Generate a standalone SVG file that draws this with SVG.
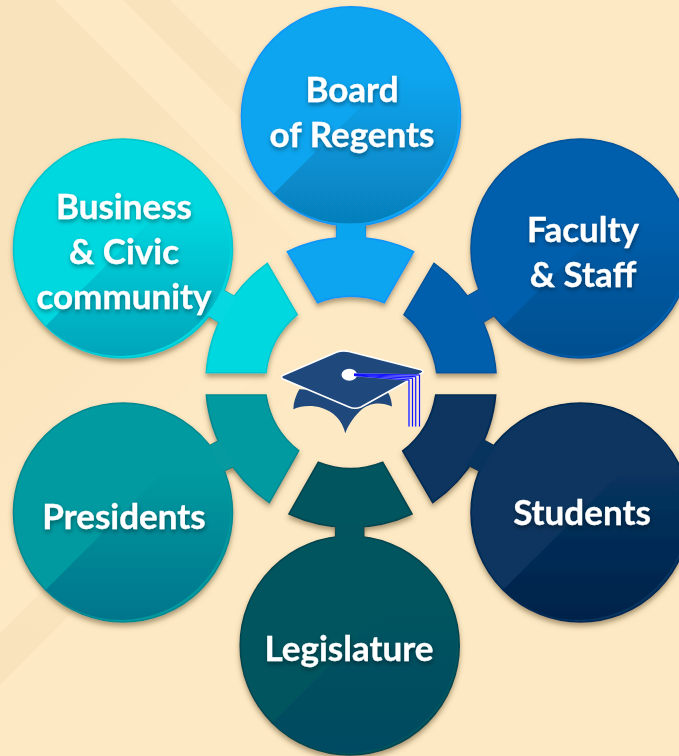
<svg xmlns="http://www.w3.org/2000/svg" width="679" height="756" viewBox="0 0 679 756">
<style>
text{font-family:"Lato","Carlito","Liberation Sans",sans-serif;font-weight:700;font-size:35px;fill:#fff;stroke:#fff;stroke-width:.3;text-anchor:middle}
.under{stroke-width:1.6;stroke-linejoin:round}
.board{fill:#0aa5ef;stroke:#0a96f8}
.faculty{fill:#035fad;stroke:#02549a}
.students{fill:#07345f;stroke:#052b52}
.legis{fill:#02545f;stroke:#02464f}
.pres{fill:#049aa0;stroke:#028a90}
.biz{fill:#05d8e0;stroke:#03c6cc}
.shade,.top{stroke:none}
.halo{fill:none;stroke:#a8a8ff;stroke-width:1.7}
.tass{fill:none;stroke:#0000ff;stroke-width:.9}
</style>
<defs>
<filter id="sh" x="-20%" y="-20%" width="140%" height="140%"><feDropShadow dx="0" dy="3.5" stdDeviation="2.6" flood-color="#5a4420" flood-opacity=".5"/></filter>
<filter id="ts" x="-20%" y="-30%" width="140%" height="170%"><feDropShadow dx="0.5" dy="2.5" stdDeviation="2" flood-color="#000" flood-opacity=".4"/></filter>
<linearGradient id="f1" gradientUnits="userSpaceOnUse" x1="120" y1="120" x2="315" y2="315"><stop offset="0" stop-color="#f9e3bc"/><stop offset="1" stop-color="#f9e3bc" stop-opacity="0"/></linearGradient>
<linearGradient id="f2" gradientUnits="userSpaceOnUse" x1="200" y1="70" x2="450" y2="320"><stop offset="0" stop-color="#f9e3bc"/><stop offset="1" stop-color="#f9e3bc" stop-opacity="0"/></linearGradient>
<linearGradient id="f3" gradientUnits="userSpaceOnUse" x1="0" y1="660" x2="340" y2="320"><stop offset="0" stop-color="#f9e3bc"/><stop offset="1" stop-color="#f9e3bc" stop-opacity="0"/></linearGradient>
<linearGradient id="gBoard" x1="0" y1="0" x2="0" y2="1"><stop offset=".2" stop-color="#0aa5ef"/><stop offset="1" stop-color="#067fbb"/></linearGradient>
<linearGradient id="gFaculty" x1="0" y1="0" x2="0" y2="1"><stop offset=".2" stop-color="#035fad"/><stop offset="1" stop-color="#024f8f"/></linearGradient>
<linearGradient id="gStudents" x1="0" y1="0" x2="0" y2="1"><stop offset=".2" stop-color="#07345f"/><stop offset="1" stop-color="#02234a"/></linearGradient>
<linearGradient id="gLegis" x1="0" y1="0" x2="0" y2="1"><stop offset=".2" stop-color="#02545f"/><stop offset="1" stop-color="#024a62"/></linearGradient>
<linearGradient id="gPres" x1="0" y1="0" x2="0" y2="1"><stop offset=".2" stop-color="#049aa0"/><stop offset="1" stop-color="#03758c"/></linearGradient>
<linearGradient id="gBiz" x1="0" y1="0" x2="0" y2="1"><stop offset=".2" stop-color="#05d8e0"/><stop offset="1" stop-color="#02a5bb"/></linearGradient>
<polygon id="n1" points="336.7,223.5 365.3,223.5 365.3,240 336.7,240"/>
<polygon id="n2" points="480.9,288.5 495.9,314.5 481.4,323.2 465.7,297.2"/>
<polygon id="n3" points="495.3,446.5 480.9,471.5 466.7,464.5 482.4,439.5"/>
<polygon id="n4" points="335.7,524 363.7,524 363.7,538 335.7,538"/>
<polygon id="n5" points="208.1,446.5 222.4,471.5 235.3,465.8 219.9,440.2"/>
<polygon id="n6" points="223.1,290.2 207.4,315.2 220.9,323.2 235.9,297.2"/>
</defs>
<rect width="679" height="756" fill="#fde9c4"/>
<g id="background">
<polygon fill="#f9e3bc" points="0,0 55,0 170,115 0,285"/>
<polygon fill="url(#f1)" points="0,285 170,115 315,260 0,574"/>
<polygon fill="url(#f2)" points="123,0 170,0 450,280 425,305"/>
<polygon fill="url(#f3)" points="0,633 320,313 345,340 0,685"/>
</g>
<g id="connectors" filter="url(#sh)">
<use href="#n1" class="board under"/><use href="#n2" class="faculty under"/><use href="#n3" class="students under"/><use href="#n4" class="legis under"/><use href="#n5" class="pres under"/><use href="#n6" class="biz under"/>
</g>
<g id="node-board" filter="url(#sh)">
<circle class="board" stroke-width="1.6" cx="351" cy="116.3" r="109.5"/>
<path class="shade" fill="url(#gBoard)" d="M273.6,193.7A109.5,109.5 0 0 0 428.4,38.9Z"/>
<path class="board" stroke-width="1.6" d="M287.3,251.7A147,147 0 0 1 413.7,251.7L384.3,302.7A88,88 0 0 0 317.7,302.7Z"/>
</g>
<g id="node-faculty" filter="url(#sh)">
<circle class="faculty" stroke-width="1.6" cx="580.5" cy="248.5" r="109.5"/>
<path class="shade" fill="url(#gFaculty)" d="M503.1,325.9A109.5,109.5 0 0 0 657.9,171.1Z"/>
<path class="faculty" stroke-width="1.6" d="M434,263.3A147,147 0 0 1 496,372.7L436.7,372.7A88,88 0 0 0 404,314.7Z"/>
</g>
<g id="node-students" filter="url(#sh)">
<circle class="students" stroke-width="1.6" cx="580.5" cy="512.5" r="109.5"/>
<path class="shade" fill="url(#gStudents)" d="M503.1,589.9A109.5,109.5 0 0 0 657.9,435.1Z"/>
<path class="students" stroke-width="1.6" d="M495.7,395A147,147 0 0 1 432.7,502.7L402.7,451A88,88 0 0 0 435.7,395Z"/>
</g>
<g id="node-legislature" filter="url(#sh)">
<circle class="legis" stroke-width="1.6" cx="349.7" cy="645.5" r="109.5"/>
<path class="shade" fill="url(#gLegis)" d="M272.3,722.9A109.5,109.5 0 0 0 427.1,568.1Z"/>
<path class="legis" stroke-width="1.6" d="M412,514A147,147 0 0 1 289,514L318.3,462.3A88,88 0 0 0 382.7,462.3Z"/>
</g>
<g id="node-presidents" filter="url(#sh)">
<circle class="pres" stroke-width="1.6" cx="123" cy="512.5" r="109.5"/>
<path class="shade" fill="url(#gPres)" d="M45.6,589.9A109.5,109.5 0 0 0 200.4,435.1Z"/>
<path class="pres" stroke-width="1.6" d="M269.3,502.7A147,147 0 0 1 206.3,395L266,395A88,88 0 0 0 298.7,450.7Z"/>
</g>
<g id="node-business" filter="url(#sh)">
<circle class="biz" stroke-width="1.6" cx="123" cy="248.5" r="109.5"/>
<path class="shade" fill="url(#gBiz)" d="M45.6,325.9A109.5,109.5 0 0 0 200.4,171.1Z"/>
<path class="biz" stroke-width="1.6" d="M206.3,372.7A147,147 0 0 1 267.3,263.3L297.3,314.7A88,88 0 0 0 266,372.7Z"/>
</g>
<g id="connector-joins">
<use href="#n1" class="board top"/><use href="#n2" class="faculty top"/><use href="#n3" class="students top"/><use href="#n4" class="legis top"/><use href="#n5" class="pres top"/><use href="#n6" class="biz top"/>
</g>
<g id="labels" filter="url(#ts)">
<text x="352" y="102">Board</text>
<text x="352" y="147">of Regents</text>
<text x="583" y="242">Faculty</text>
<text x="583" y="287">&amp; Staff</text>
<text x="582" y="525">Students</text>
<text x="349" y="661">Legislature</text>
<text x="124" y="529">Presidents</text>
<text x="124" y="219">Business</text>
<text x="124" y="264">&amp; Civic</text>
<text x="124" y="309">community</text>
</g>
<g id="node-cap">
<path fill="#1f497d" d="M293.3,409.3C293.5,402 296,395 299.3,389.3L388.3,393C390.5,397 391.7,401 392,406.5C380,401 368,403 360,411C352,419 348,426 345.3,433.3C342,420 334,412 322,408C312,405 302,405.5 293.3,409.3Z"/>
<path fill="#1f497d" stroke="#fff" stroke-width="1.6" stroke-linejoin="round" d="M283,375.2Q280,377.3 283,379L349,407Q355,409.5 361,407L421,373.5Q425,371 421,369.7L349,351.5Q343,350 337,352Z"/>
<ellipse cx="349.3" cy="374.7" rx="7.8" ry="6" fill="#fff"/>
<path class="halo" d="M354,374L419.5,375V426.5M354,374.5L415.7,376.7V426.5M354,375L412.5,378.3V426.5M354,375.5L409,380V426.5"/>
<path class="tass" d="M354,374L419.5,375V426.5M354,374.5L415.7,376.7V426.5M354,375L412.5,378.3V426.5M354,375.5L409,380V426.5"/>
</g>
</svg>
